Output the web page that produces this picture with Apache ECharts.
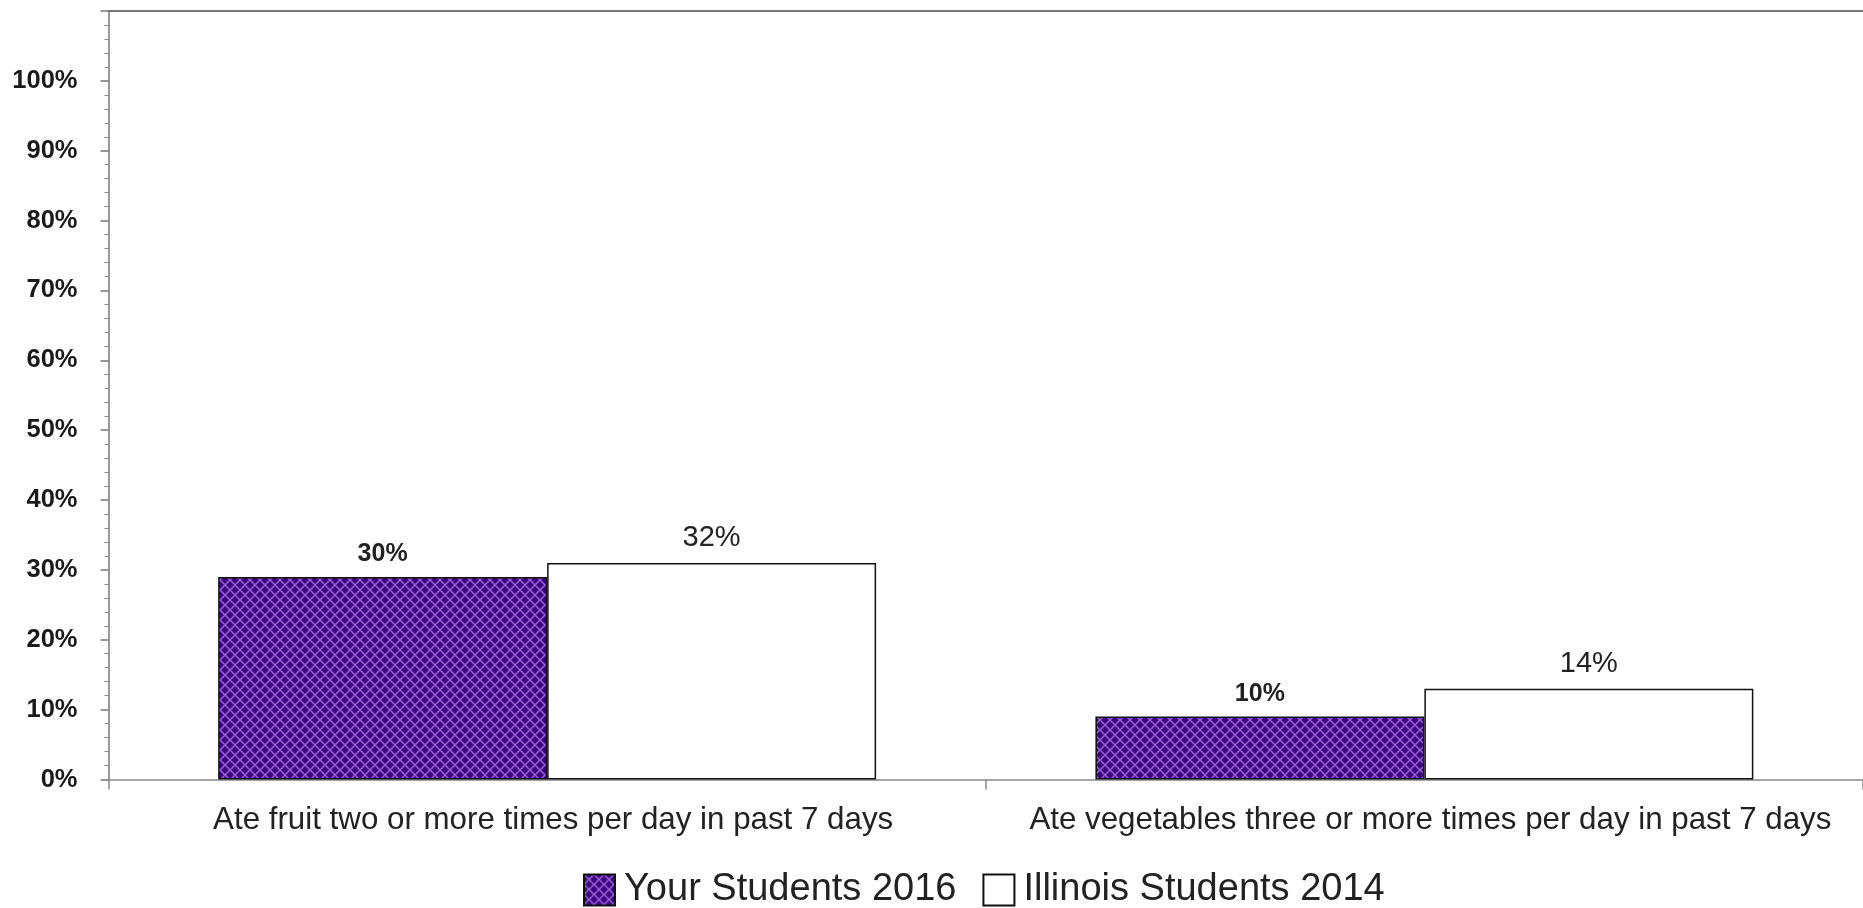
<!DOCTYPE html>
<html>
<head>
<meta charset="utf-8">
<script src="https://cdn.jsdelivr.net/npm/echarts@6/dist/echarts.min.js"></script>
<style>
html,body{margin:0;padding:0;background:#fff;}
#chart{width:1863px;height:908px;}
</style>
</head>
<body>
<div id="chart"></div>
<script>
const categories = [
  'Ate fruit two or more times per day in past 7 days',
  'Ate vegetables three or more times per day in past 7 days'
];
const seriesNames = ['Your Students 2016', 'Illinois Students 2014'];
const yourStudents = [29, 9];
const illinoisStudents = [31, 13];
const yourLabels = ['30%', '10%'];
const illinoisLabels = ['32%', '14%'];
const yTicks = [0, 10, 20, 30, 40, 50, 60, 70, 80, 90, 100];

// crosshatch pattern for the purple series
const tile = document.createElement('canvas');
const P = 10;
tile.width = P; tile.height = P;
const c = tile.getContext('2d');
c.fillStyle = '#3f0082';
c.fillRect(0, 0, P, P);
c.strokeStyle = '#9564d2';
c.lineWidth = 1.5;
c.beginPath();
c.moveTo(-1, -1); c.lineTo(P + 1, P + 1);
c.moveTo(P + 1, -1); c.lineTo(-1, P + 1);
c.stroke();
const purplePattern = { image: tile, repeat: 'repeat' };

const FONT = 'Liberation Sans, Arial, sans-serif';
const chart = echarts.init(document.getElementById('chart'));
chart.setOption({
  backgroundColor: '#ffffff',
  animation: false,
  grid: { left: 108.5, top: 11, right: -4, bottom: 128.5 },
  legend: {
    data: seriesNames,
    left: 578,
    top: 866,
    itemWidth: 31,
    itemHeight: 31,
    itemGap: 26,
    icon: 'rect',
    textStyle: { fontSize: 38, color: '#222', fontFamily: FONT, padding: [0, 0, 0, 4] }
  },
  xAxis: [{
    type: 'category',
    data: categories,
    axisLine: { show: true, lineStyle: { color: '#888', width: 1.5 } },
    axisTick: { show: true, length: 10, lineStyle: { color: '#888', width: 1.5 } },
    axisLabel: { fontSize: 31.3, color: '#222', fontFamily: FONT, margin: 25, interval: 0, padding: [0, 0, 0, 12] },
    splitLine: { show: false }
  }, {
    type: 'category',
    data: categories,
    position: 'top',
    axisLine: { show: true, lineStyle: { color: '#777', width: 2 } },
    axisTick: { show: false },
    axisLabel: { show: false }
  }],
  yAxis: {
    type: 'value',
    min: 0,
    max: 110,
    interval: 10,
    axisLine: { show: true, lineStyle: { color: '#777', width: 1.5 } },
    axisTick: { show: true, length: 8, lineStyle: { color: '#777', width: 1.5 } },
    minorTick: { show: true, splitNumber: 5, length: 4, lineStyle: { color: '#888', width: 1 } },
    splitLine: { show: false },
    axisLabel: {
      fontSize: 25.5, fontWeight: 'bold', color: '#1a1a1a', fontFamily: FONT, margin: 31,
      formatter: v => yTicks.indexOf(v) >= 0 ? v + '%' : ''
    }
  },
  series: [{
    name: seriesNames[0],
    type: 'bar',
    data: yourStudents,
    barGap: '0%',
    barCategoryGap: '25%',
    itemStyle: { color: purplePattern, borderColor: '#111', borderWidth: 1.5 },
    label: {
      show: true, position: 'top', distance: 10,
      fontSize: 25, fontWeight: 'bold', color: '#222', fontFamily: FONT,
      formatter: p => yourLabels[p.dataIndex]
    }
  }, {
    name: seriesNames[1],
    type: 'bar',
    data: illinoisStudents,
    itemStyle: { color: '#ffffff', borderColor: '#111', borderWidth: 1.5 },
    label: {
      show: true, position: 'top', distance: 10,
      fontSize: 29, color: '#222', fontFamily: FONT,
      formatter: p => illinoisLabels[p.dataIndex]
    }
  }]
});
</script>
</body>
</html>
